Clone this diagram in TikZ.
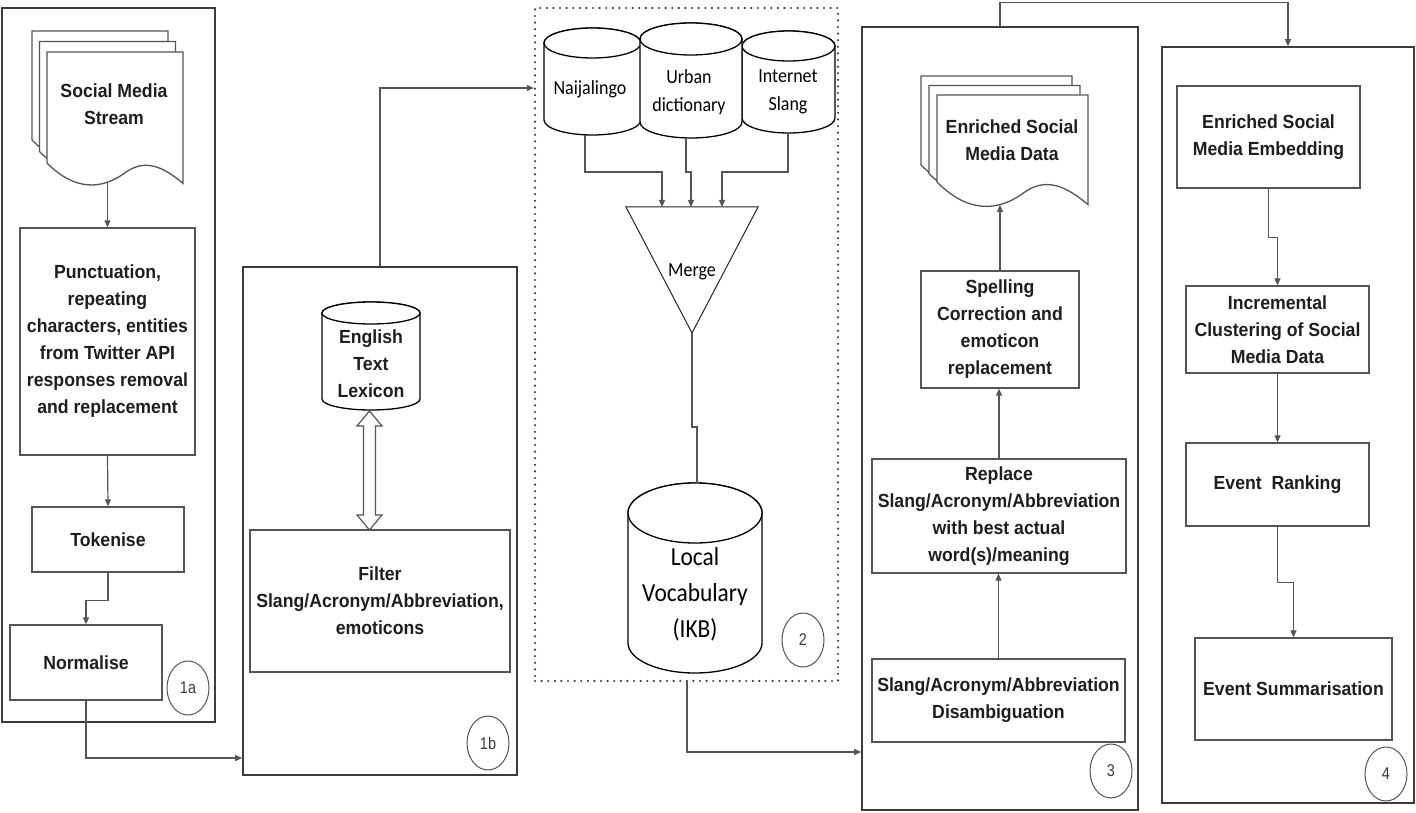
\documentclass[tikz,border=0pt]{standalone}
\usepackage{fontspec}
\setmainfont{Liberation Sans}
\newfontfamily\labfont[FakeStretch=0.93]{Liberation Sans}
\newfontfamily\calfont[FakeStretch=0.9]{Carlito}
\newfontfamily\badgefont[FakeStretch=0.85]{Liberation Sans}
\usetikzlibrary{arrows.meta,shapes.geometric}
\definecolor{lnc}{HTML}{555555}
\definecolor{txc}{HTML}{1E1E1E}
\newcommand{\bfx}{\labfont\bfseries\fontsize{19}{27}\selectfont}
\newcommand{\calx}{\calfont\fontsize{20}{28}\selectfont}
\newcommand{\docsheet}[4]{%
  \pgfmathsetmacro\dw{#3-#1}%
  \pgfmathsetmacro\da{0.15*\dw}%
  \draw[docline] (#1,#2) -- (#3,#2) -- (#3,#4+\da)
    .. controls (#1+0.85*\dw,#4+0.15*\da) and (#1+0.72*\dw,#4-0.2*\da) .. (#1+0.58*\dw,#4+0.45*\da)
    .. controls (#1+0.4*\dw,#4+1.35*\da) and (#1+0.2*\dw,#4+1.35*\da) .. (#1,#4) -- cycle;}
\newcommand{\dbcyl}[5]{%
  \pgfmathsetmacro\crx{(#2-#1)/2}%
  \pgfmathsetmacro\ccx{(#1+#2)/2}%
  \draw[cyl] (#1,#3) -- (#1,#4) arc[start angle=180,end angle=360,x radius=\crx pt,y radius=#5 pt]
    -- (#2,#3) arc[start angle=0,end angle=180,x radius=\crx pt,y radius=#5 pt] -- cycle;
  \draw[cyl] (\ccx,#3) ellipse[x radius=\crx pt,y radius=#5 pt];}
\begin{document}
\begin{tikzpicture}[x=1pt,y=-1pt,
  pbox/.style={draw=lnc, line width=1.3pt, fill=white, inner sep=2pt, align=center, font=\bfx, text=txc},
  grp/.style={draw=lnc!70!black, line width=1.6pt, inner sep=0pt},
  dotgrp/.style={draw=lnc!70!black, line width=2.4pt, dash pattern=on 0pt off 6.6pt, line cap=round, inner sep=0pt},
  arr/.style={draw=lnc, line width=1.2pt, -{Triangle[length=7pt,width=6pt]}},
  plain/.style={draw=lnc, line width=1.2pt},
  cyl/.style={draw=black, line width=1.3pt, fill=white},
  docline/.style={draw=lnc, line width=1.3pt, fill=white},
  txt/.style={align=center, font=\bfx, text=txc, inner sep=0pt},
  ctxt/.style={align=center, font=\calx, text=black, inner sep=0pt},
  badge/.style={ellipse, draw=lnc, line width=1pt, minimum width=42pt, minimum height=54pt, inner sep=0pt,
     font=\badgefont\fontsize{17}{19}\selectfont, text=lnc!70!black}
]
\useasboundingbox (0,0) rectangle (1416,813);

% ---------- group frames
\node[grp, minimum width=213pt, minimum height=714pt] (f1a) at (108.5,365) {};
\node[grp, minimum width=274pt, minimum height=508pt] (f1b) at (380,521) {};
\node[dotgrp, minimum width=303pt, minimum height=673pt] (f2) at (686.5,344.5) {};
\node[grp, minimum width=276pt, minimum height=783pt] (f3) at (1000,418.5) {};
\node[grp, minimum width=252pt, minimum height=756pt] (f4) at (1288,425) {};

% ---------- group 1a
\docsheet{32}{31}{168}{140}
\docsheet{39.5}{41.5}{175.5}{151.5}
\docsheet{47}{52}{183}{163}
\node[txt] (d1) at (114,104) {Social Media\\Stream};
\coordinate (d1b) at (107.5,182);
\node[pbox, minimum width=175pt, minimum height=227pt] (punct) at (107.5,341.5)
  {Punctuation,\\repeating\\characters, entities\\from Twitter API\\responses removal\\and replacement};
\node[pbox, minimum width=152pt, minimum height=65pt] (tok) at (108,539.5) {Tokenise};
\node[pbox, minimum width=152pt, minimum height=75pt] (norm) at (86,662.5) {Normalise};
\node[badge] (b1a) at (188,688) {1a};

\draw[arr] (d1b) -- (punct.north);
\draw[arr] (punct.south) -- (tok.north);
\draw[arr] (tok.south) -- ++(0,28) -| (norm.north);
\coordinate (j1) at (86,758);
\draw[arr] (norm.south) -- (j1) -- (j1 -| f1b.west);

% ---------- group 1b
\dbcyl{322}{420}{313}{399}{11}
\node[txt] (lex) at (371,364) {English\\Text\\Lexicon};
\node[pbox, minimum width=260pt, minimum height=142pt] (filt) at (380,601)
  {Filter\\Slang/Acronym/Abbreviation,\\emoticons};
\draw[plain, fill=white] (369.5,411) -- (382,426) -- (375.5,426) -- (375.5,515) -- (382,515) -- (369.5,530)
  -- (357,515) -- (363.5,515) -- (363.5,426) -- (357,426) -- cycle;
\node[badge] (b1b) at (488,743) {1b};
\coordinate (j2) at (380,88);
\draw[arr] (f1b.north) -- (j2) -- (j2 -| f2.west);

% ---------- group 2
\dbcyl{544}{641}{43}{120}{15}
\dbcyl{742}{835}{46}{118}{15}
\dbcyl{640}{742}{39}{122}{16}
\node[ctxt] (naija) at (590,89) {Naijalingo};
\node[ctxt] (urban) at (689,92) {Urban\\dictionary};
\node[ctxt] (inet) at (788,92) {Internet\\Slang};
\coordinate (naijab) at (585,135);
\coordinate (urbanb) at (686,138);
\coordinate (inetb) at (788,133);
\draw[draw=black!85, line width=1pt] (626,207) -- (758,207) -- (692,333) -- cycle;
\node[ctxt] (merge) at (692,272) {Merge};
\coordinate (m1) at (662,207);
\coordinate (m2) at (691,207);
\coordinate (m3) at (722,207);
\coordinate (mapex) at (692,333);
\coordinate (ja) at (585,172);
\draw[arr] (naijab) -- (ja) -| (m1);
\draw[arr] (urbanb) -- ++(0,34) -| (m2);
\draw[arr] (inetb) -- ++(0,39) -| (m3);
\dbcyl{628}{762}{513}{643}{30}
\node[align=center, font=\calfont\fontsize{26}{36}\selectfont, text=black, inner sep=0pt] (lv) at (695,594) {Local\\Vocabulary\\(IKB)};
\coordinate (lvt) at (697,483);
\draw[plain] (mapex) -- ++(0,94) -| (lvt);
\node[badge] (b2) at (803,640) {2};
\coordinate (lvo) at (687,681);
\coordinate (j3) at (687,752);
\draw[arr] (lvo) -- (j3) -- (j3 -| f3.west);

% ---------- group 3
\docsheet{921}{76}{1072}{165}
\docsheet{929}{85.5}{1080}{173.5}
\docsheet{937}{95}{1088}{182}
\node[txt] (d2) at (1012,140) {Enriched Social\\Media Data};
\coordinate (d2b) at (1000,205);
\node[pbox, minimum width=158pt, minimum height=117pt] (spell) at (1000,329.5)
  {Spelling\\Correction and\\emoticon\\replacement};
\node[pbox, minimum width=254pt, minimum height=114pt] (repl) at (999,516)
  {Replace\\Slang/Acronym/Abbreviation\\with best actual\\word(s)/meaning};
\node[pbox, minimum width=253pt, minimum height=83pt] (dis) at (998.5,700.5)
  {Slang/Acronym/Abbreviation\\Disambiguation};
\node[badge] (b3) at (1111,771) {3};
\draw[arr] (spell.north) -- (d2b);
\draw[arr] (repl.north) -- (repl.north |- spell.south);
\draw[arr] (dis.north) -- (dis.north |- repl.south);
\draw[arr] (f3.north) -- ++(0,-24) -| (f4.north);

% ---------- group 4
\node[pbox, minimum width=183pt, minimum height=102pt] (emb) at (1268.5,137)
  {Enriched Social\\Media Embedding};
\node[pbox, minimum width=183pt, minimum height=87pt] (inc) at (1277.5,329.5)
  {Incremental\\Clustering of Social\\Media Data};
\node[pbox, minimum width=183pt, minimum height=83pt] (rank) at (1277.5,484.5) {Event\ \ Ranking};
\node[pbox, minimum width=197pt, minimum height=102pt] (summ) at (1293.5,689) {Event Summarisation};
\node[badge] (b4) at (1386,774) {4};
\draw[arr] (emb.south) -- ++(0,49) -| (inc.north);
\draw[arr] (inc.south) -- (rank.north);
\draw[arr] (rank.south) -- ++(0,56) -| (summ.north);
\end{tikzpicture}
\end{document}
